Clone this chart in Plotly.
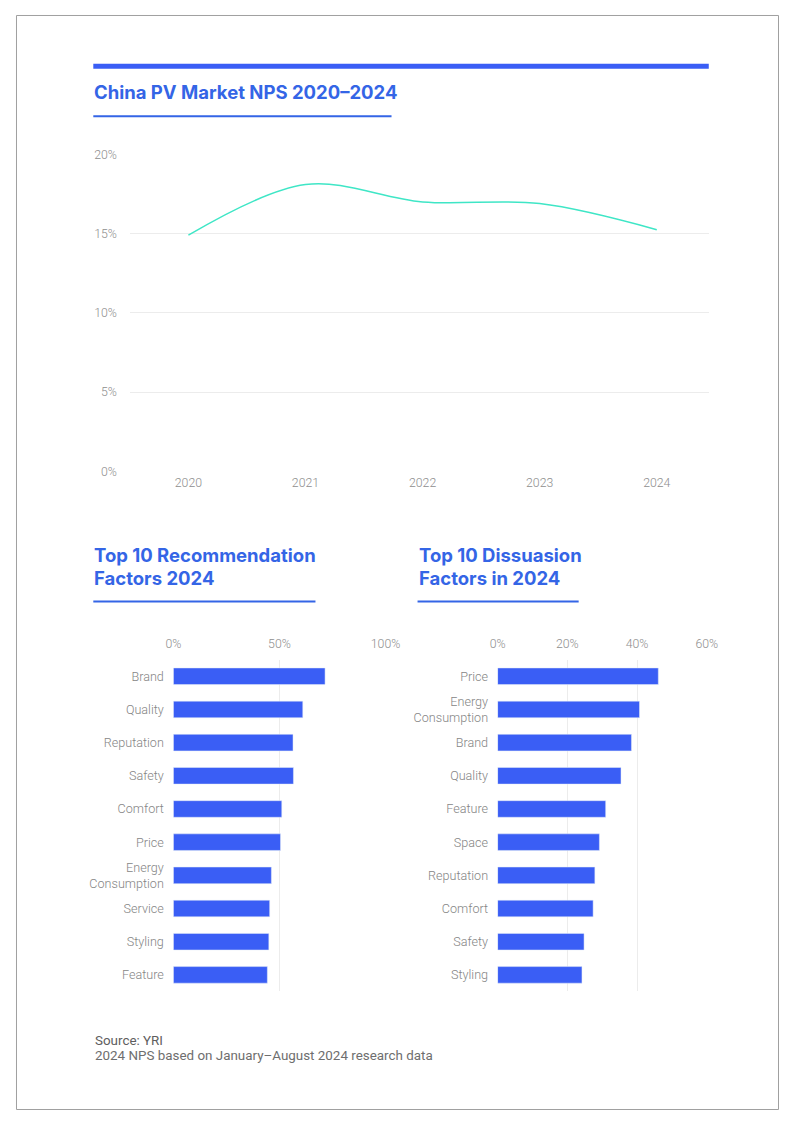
import plotly.graph_objects as go

# The returned picture places the page at an 8px inset and shrinks it slightly,
# so reference pixels are mapped back to figure pixels below.
W, H = 786, 1109
SX, SY = 0.97, 0.985
BODY = 8

BLUE = "#3A5EF5"
TITLE_BLUE = "#3465E6"
GRID = "#ECECEC"
TICK = "#8E8E8E"

# NPS by year
years = ["2020", "2021", "2022", "2023", "2024"]
nps = [14.9, 18.1, 17.0, 16.9, 15.25]

# recommendation factors 2024 (share %)
rec_factors = ["Brand", "Quality", "Reputation", "Safety", "Comfort", "Price",
               "Energy<br>Consumption", "Service", "Styling", "Feature"]
rec_values = [71.5, 61.0, 56.4, 56.6, 51.1, 50.5, 46.2, 45.4, 45.0, 44.3]

# dissuasion factors 2024 (share %)
dis_factors = ["Price", "Energy<br>Consumption", "Brand", "Quality", "Feature",
               "Space", "Reputation", "Comfort", "Safety", "Styling"]
dis_values = [46.1, 40.7, 38.4, 35.4, 31.0, 29.2, 27.9, 27.4, 24.8, 24.2]


def px_x(x):
    # reference pixel -> paper fraction
    return ((x - 8) / SX - BODY) / W


def px_y(y):
    return 1 - ((y - 8) / SY - BODY) / H


tick_font = dict(family="Roboto", size=12.3, color=TICK, weight=300)
cat_font = dict(family="Roboto", size=12.6, color="#858585", weight=300)
hidden_tick = dict(ticks="outside", tickcolor="rgba(0,0,0,0)")

fig = go.Figure()

fig.add_trace(go.Scatter(
    x=years, y=nps, mode="lines", line=dict(color="#3FE6C6", width=1.5, shape="spline"),
    xaxis="x", yaxis="y", hoverinfo="skip", showlegend=False,
))
fig.add_trace(go.Bar(
    x=rec_values, y=rec_factors, orientation="h", marker_color=BLUE, width=0.5,
    xaxis="x2", yaxis="y2", showlegend=False,
))
fig.add_trace(go.Bar(
    x=dis_values, y=dis_factors, orientation="h", marker_color=BLUE, width=0.5,
    xaxis="x3", yaxis="y3", showlegend=False,
))

fig.update_layout(
    width=W, height=H, autosize=False,
    margin=dict(l=0, r=0, t=0, b=0),
    paper_bgcolor="white", plot_bgcolor="white",
    font=dict(family="Roboto"),
    # line chart
    xaxis=dict(domain=[px_x(130), px_x(708)], range=[-0.496, 4.444], type="category",
               showgrid=False, zeroline=False, showline=False, tickfont=tick_font,
               ticklen=0, **hidden_tick),
    yaxis=dict(domain=[px_y(471), px_y(155)], range=[0, 20], dtick=5, ticksuffix="%",
               showgrid=True, gridcolor=GRID, gridwidth=1, zeroline=False, showline=False,
               tickfont=tick_font, ticklen=10, **hidden_tick),
    # recommendation bars
    xaxis2=dict(domain=[px_x(173), px_x(385)], range=[0, 100], dtick=50, ticksuffix="%",
                side="top", anchor="y2", showgrid=True, gridcolor=GRID, zeroline=False,
                tickfont=tick_font, ticklen=6, **hidden_tick),
    yaxis2=dict(domain=[px_y(990), px_y(659)], anchor="x2", autorange="reversed",
                showgrid=False, zeroline=False, tickfont=cat_font, ticklen=6, **hidden_tick),
    # dissuasion bars
    xaxis3=dict(domain=[px_x(497), px_x(706)], range=[0, 60], dtick=20, ticksuffix="%",
                side="top", anchor="y3", showgrid=True, gridcolor=GRID, zeroline=False,
                tickfont=tick_font, ticklen=6, **hidden_tick),
    yaxis3=dict(domain=[px_y(990), px_y(659)], anchor="x3", autorange="reversed",
                showgrid=False, zeroline=False, tickfont=cat_font, ticklen=6, **hidden_tick),
)

shapes = [
    # page border (drawn at the figure edge)
    dict(type="rect", xref="paper", yref="paper", x0=0.5 / W, x1=1 - 0.5 / W,
         y0=0.5 / H, y1=1 - 0.5 / H, line=dict(color="#A0A0A0", width=1)),
    # top thick bar
    dict(type="rect", xref="paper", yref="paper", x0=px_x(93), x1=px_x(708),
         y0=px_y(69.5), y1=px_y(64.5), fillcolor=BLUE, line_width=0),
    # underlines
    dict(type="line", xref="paper", yref="paper", x0=px_x(93), x1=px_x(391),
         y0=px_y(117), y1=px_y(117), line=dict(color=TITLE_BLUE, width=2)),
    dict(type="line", xref="paper", yref="paper", x0=px_x(93), x1=px_x(315),
         y0=px_y(601), y1=px_y(601), line=dict(color=TITLE_BLUE, width=2)),
    dict(type="line", xref="paper", yref="paper", x0=px_x(417), x1=px_x(578),
         y0=px_y(601), y1=px_y(601), line=dict(color=TITLE_BLUE, width=2)),
]
fig.update_layout(shapes=shapes)

title_font = dict(family="Inter", size=18.5, color=TITLE_BLUE, weight=700)
titles = [
    ("China PV Market NPS 2020–2024", 92, 93),
    ("Top 10 Recommendation", 92, 555),
    ("Factors 2024", 92, 577.5),
    ("Top 10 Dissuasion", 416, 555),
    ("Factors in 2024", 416, 577.5),
]
for text, x, y in titles:
    fig.add_annotation(text=text, x=px_x(x), y=px_y(y), xref="paper", yref="paper",
                       xanchor="left", yanchor="middle", showarrow=False, font=title_font)

notes = [
    ("Source: YRI", 1038.5, "#5E5E5E"),
    ("2024 NPS based on January–August 2024 research data", 1053.5, "#6E6E6E"),
]
for text, y, color in notes:
    fig.add_annotation(text=text, x=px_x(93), y=px_y(y), xref="paper", yref="paper",
                       xanchor="left", yanchor="middle", showarrow=False,
                       font=dict(family="Roboto", size=13.4, color=color))

fig.write_html("out.html")
